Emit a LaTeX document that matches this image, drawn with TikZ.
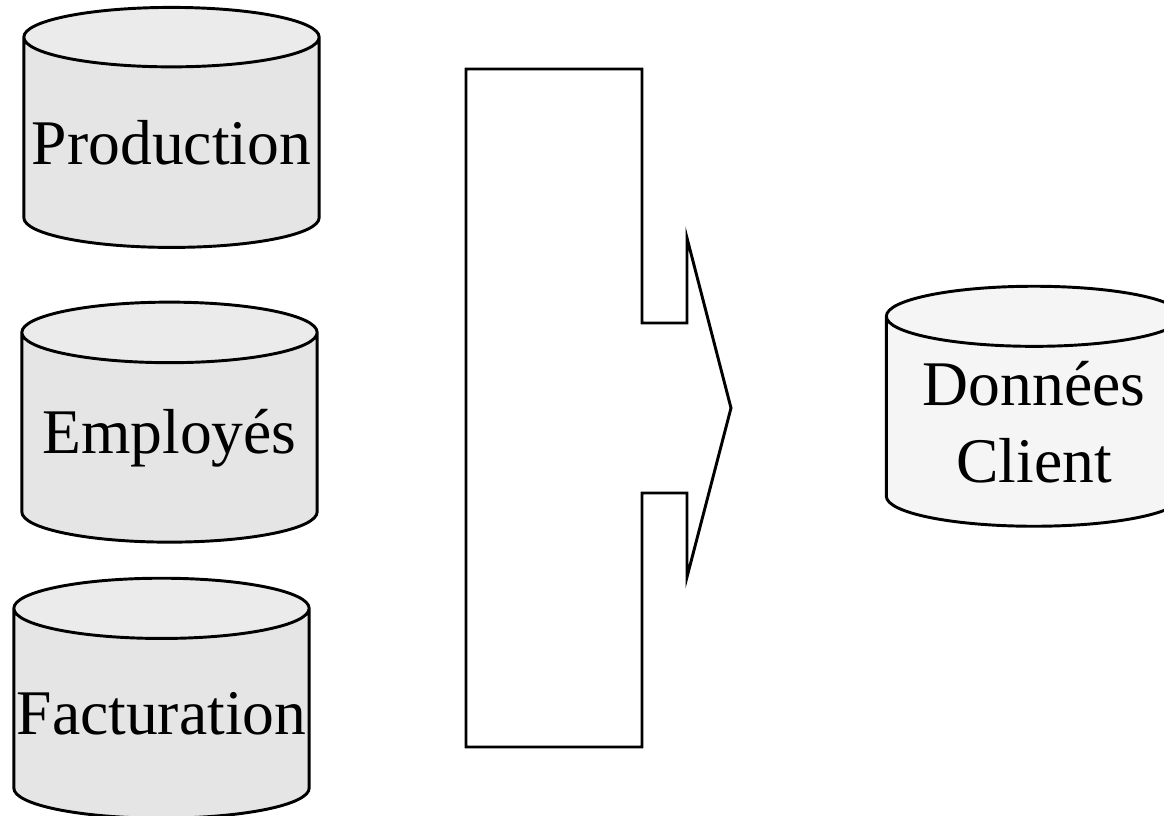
\documentclass[tikz,border=0pt]{standalone}
\usepackage{fontspec}
\setmainfont{Liberation Serif}
\usetikzlibrary{shapes.geometric}
\tikzset{
  base/.style={cylinder,shape border rotate=90,draw,line width=2.2pt,inner sep=0pt,
    minimum width=221.5pt,minimum height=180pt,cylinder uses custom fill,
    font=\fontsize{47.7}{57.5}\selectfont,align=center},
  greybase/.style={base,cylinder body fill=black!10,cylinder end fill=black!8},
  clientbase/.style={base,cylinder body fill=black!4,cylinder end fill=black!4}
}
\begin{document}
\begin{tikzpicture}[x=0.75pt,y=-0.75pt]
\useasboundingbox (0,0) rectangle (1164,815);
% source tables
\foreach \n/\x/\y/\a/\t in {prod/171.5/143/0.213/Production,empl/169.5/438/0.238/Employés,fact/161.5/714/0.208/Facturation} {
        \node[greybase,aspect=\a] (\n) at (\x,\y) {\t};
}
\node[clientbase,aspect=0.27] (client) at (1034,422) {Données\\Client};
% merge arrow
\draw[line width=2.2pt,miter limit=20] (466,69) -- (642,69) -- (642,323) -- (687,323) -- (687,238) -- (731,408)
        -- (687,577) -- (687,493) -- (642,493) -- (642,747) -- (466,747) -- cycle;
\end{tikzpicture}
\end{document}
